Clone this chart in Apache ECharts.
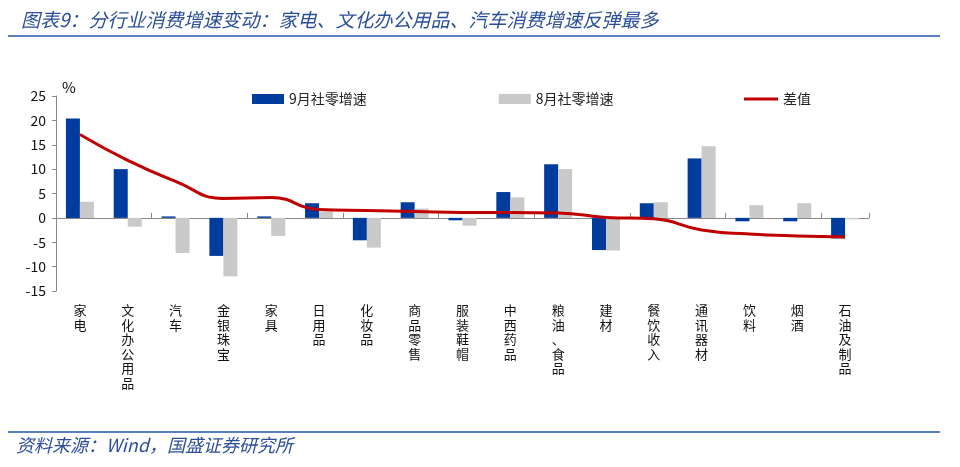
<!DOCTYPE html>
<html><head><meta charset="utf-8">
<script src="https://cdn.jsdelivr.net/npm/echarts@6/dist/echarts.min.js"></script>
<style>html,body{margin:0;padding:0;background:#fff}#c{width:960px;height:467px}</style>
</head><body><div id="c"></div>
<script>
const categories = ['家电','文化办公用品','汽车','金银珠宝','家具','日用品','化妆品','商品零售','服装鞋帽','中西药品','粮油、食品','建材','餐饮收入','通讯器材','饮料','烟酒','石油及制品'];
const sep = [20.4,10.0,0.3,-7.8,0.3,3.0,-4.6,3.2,-0.5,5.3,11.0,-6.6,3.0,12.2,-0.7,-0.7,-4.2];
const aug = [3.3,-1.8,-7.2,-12.0,-3.7,1.3,-6.1,1.9,-1.6,4.2,10.0,-6.7,3.2,14.7,2.6,3.0,-0.3];
const diff = [17.1,11.8,7.5,4.0,4.2,1.7,1.5,1.3,1.1,1.1,1.0,0.1,-0.2,-2.5,-3.3,-3.7,-3.9];
const yTicks = {min:-15, max:25, interval:5};
const names = ['9月社零增速','8月社零增速','差值'];

const chart = echarts.init(document.getElementById('c'));
const cjk = '"Noto Sans CJK SC", "Noto Sans", sans-serif';
chart.setOption({
  animation:false,
  textStyle:{fontFamily:cjk},
  title:{text:'图表9：分行业消费增速变动：家电、文化办公用品、汽车消费增速反弹最多',left:16,top:5,
    textStyle:{fontSize:19,fontStyle:'italic',fontWeight:'normal',color:'#2B4E9B',fontFamily:cjk}},
  graphic:[
    {type:'rect',shape:{x:8,y:35,width:932,height:2},style:{fill:'#5B80C2'}},
    {type:'rect',shape:{x:8,y:431,width:932,height:2},style:{fill:'#5B80C2'}},
    {type:'text',left:16,top:436,style:{text:'资料来源：Wind，国盛证券研究所',font:'italic 18px '+cjk,fill:'#2B4E9B'}},
    {type:'text',left:62,top:80,style:{text:'%',font:'15px '+cjk,fill:'#000'}}
  ],
  legend:[
    {left:247,top:87,itemWidth:32,itemHeight:10,itemGap:132,icon:'rect',
     textStyle:{fontSize:14,color:'#222'},data:[names[0],names[1]]},
    {left:739,top:87,itemWidth:34,itemHeight:3,icon:'rect',
     textStyle:{fontSize:14,color:'#222'},data:[names[2]]}
  ],
  grid:{left:56,right:91,top:96,bottom:176},
  xAxis:[
    {type:'category',data:categories,position:'bottom',
     axisLine:{onZero:true,lineStyle:{color:'#888',width:1}},
     axisTick:{show:true,inside:true,length:5,lineStyle:{color:'#888'}},
     axisLabel:{show:false}},
    {type:'category',data:categories,position:'bottom',
     axisLine:{show:false},axisTick:{show:false},
     axisLabel:{interval:0,margin:12,fontSize:13,lineHeight:14.5,color:'#111',verticalAlign:'top',
       formatter:v=>v.split('').join('\n')}}
  ],
  yAxis:{type:'value',min:yTicks.min,max:yTicks.max,interval:yTicks.interval,
    axisLine:{show:true,lineStyle:{color:'#888'}},
    axisTick:{show:true,length:4,lineStyle:{color:'#888'}},
    splitLine:{show:false},
    axisLabel:{fontSize:14,color:'#111',margin:10}},
  series:[
    {name:names[0],type:'bar',data:sep,barWidth:14,barGap:'0%',itemStyle:{color:'#003C9E'}},
    {name:names[1],type:'bar',data:aug,barWidth:14,itemStyle:{color:'#C9C9C9'}},
    {name:names[2],type:'line',data:diff,smooth:0.5,showSymbol:false,symbol:'none',
     lineStyle:{color:'#C00000',width:3},itemStyle:{color:'#C00000'},z:5}
  ]
});
</script></body></html>
